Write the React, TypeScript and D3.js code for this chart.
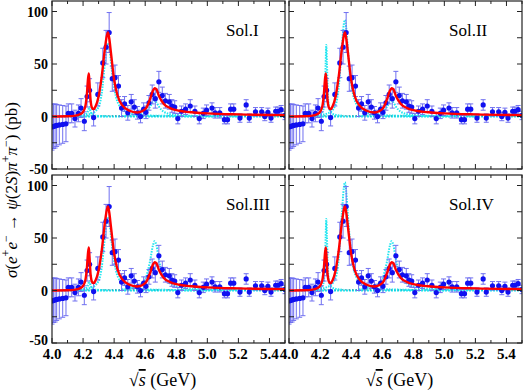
import React from 'react';
import * as d3 from 'd3';

// measured points: energy (GeV), cross section (pb), error (pb)
const energy = [4.0, 4.01, 4.02, 4.03, 4.047, 4.069, 4.09, 4.105, 4.127, 4.148, 4.17, 4.187, 4.208, 4.226, 4.242, 4.268, 4.295,
  4.327, 4.348, 4.368, 4.388, 4.406, 4.428, 4.448, 4.467, 4.488, 4.51, 4.53, 4.55, 4.57, 4.59, 4.605, 4.624, 4.645, 4.665,
  4.688, 4.71, 4.73, 4.755, 4.772, 4.79, 4.81, 4.834, 4.86, 4.89, 4.92, 4.948, 4.974, 4.995, 5.03, 5.05, 5.08, 5.11, 5.13,
  5.15, 5.17, 5.21, 5.25, 5.27, 5.31, 5.35, 5.37, 5.39, 5.41, 5.44, 5.455, 5.475, 5.5];
const xsec = [-10, -9.5, -9, -8.5, -8, -7.5, -7, 3, 3, -2, 3, 8, -4.5, 19, 25, -1, 21,
  51, 66, 80, 36, 37, 29, 8, 12, 3.5, 14, 9, 3.5, 0, 7, 4, 13, 21, 17,
  33, 20, 15, 14, 10, 9, -2, 5, 7, 10, 5, -2, 3, 6, 8, 3.5, 3.5, -3, -3,
  7, 7, -1.5, 11, -1.5, 4.5, 4.5, 0, 4, -1.5, 5, 5, 6.5, 1];
const xerr = [22, 21, 21, 20, 19, 18, 17, 9, 9, 8, 8, 9, 9, 10, 11, 8, 11,
  14, 16, 19, 12, 12, 10, 8, 7, 7, 7, 7, 6, 6, 6, 6, 7, 9, 9,
  10, 8, 7, 7, 6, 6, 5, 5, 5, 6, 5, 5, 5, 5, 5, 5, 5, 4, 4,
  5, 5, 4, 5, 4, 4, 4, 4, 4, 4, 4, 4, 4, 4];

// total fit (same in all solutions)
const fitTotal: [number, number][] = [[4.0, 0], [4.1, 0.2], [4.15, 0.8], [4.18, 2.2], [4.2, 4.5], [4.215, 10], [4.225, 22],
  [4.232, 36], [4.237, 41], [4.241, 33], [4.248, 16], [4.257, 8.5], [4.268, 7], [4.28, 9.5], [4.3, 19], [4.32, 38],
  [4.34, 64], [4.353, 77], [4.36, 80], [4.368, 75], [4.38, 60], [4.4, 35], [4.42, 21], [4.45, 11], [4.5, 5.5],
  [4.55, 3.8], [4.58, 5], [4.61, 9], [4.63, 16], [4.648, 24], [4.662, 27], [4.672, 26], [4.69, 19], [4.72, 12],
  [4.76, 8], [4.82, 5.5], [4.9, 4], [5.0, 3], [5.2, 2], [5.5, 1.3]];

// individual resonance components
const narrowLow: [number, number][] = [[4.15, 0.3], [4.2, 1], [4.22, 2.5], [4.23, 4.5], [4.236, 7.5], [4.24, 9],
  [4.244, 7], [4.25, 4], [4.26, 2], [4.28, 0.8], [4.35, 0.3]];
const narrowHigh: [number, number][] = [[4.15, 0.5], [4.2, 2], [4.22, 6], [4.23, 20], [4.236, 50], [4.24, 68],
  [4.244, 52], [4.25, 22], [4.26, 7], [4.28, 2.5], [4.35, 0.6]];
const mainLow: [number, number][] = [[4.15, 0.5], [4.25, 2.5], [4.3, 9], [4.32, 22], [4.34, 50], [4.355, 68],
  [4.362, 70], [4.372, 62], [4.39, 38], [4.41, 20], [4.44, 9], [4.5, 3], [4.6, 1], [5.0, 0.2]];
const mainMid: [number, number][] = [[4.15, 0.5], [4.25, 3], [4.3, 11], [4.32, 28], [4.34, 65], [4.353, 88],
  [4.36, 92], [4.368, 85], [4.38, 62], [4.4, 32], [4.43, 13], [4.48, 5], [4.6, 1.2], [5.0, 0.2]];
const mainHigh: [number, number][] = [[4.15, 0.6], [4.25, 3.5], [4.3, 12], [4.32, 30], [4.34, 72], [4.353, 98],
  [4.36, 103], [4.368, 95], [4.38, 70], [4.4, 36], [4.43, 14], [4.48, 5.5], [4.6, 1.3], [5.0, 0.2]];
const thirdLow: [number, number][] = [[4.45, 0.5], [4.55, 1.5], [4.6, 4], [4.63, 9], [4.65, 14], [4.66, 15],
  [4.672, 13.5], [4.69, 9], [4.72, 4.5], [4.78, 1.8], [4.9, 0.6], [5.2, 0.2]];
const thirdHigh: [number, number][] = [[4.45, 1], [4.55, 4], [4.6, 11], [4.63, 27], [4.65, 43], [4.66, 47],
  [4.672, 43], [4.69, 28], [4.72, 13], [4.78, 5], [4.9, 1.7], [5.2, 0.5]];
const flatZero: [number, number][] = [[4.0, 0], [5.5, 0]];

const solNames = ['Sol.I', 'Sol.II', 'Sol.III', 'Sol.IV'];
const solComps = [
  [narrowLow, mainLow, thirdLow],
  [narrowHigh, mainMid, thirdLow],
  [narrowLow, mainLow, thirdHigh],
  [narrowHigh, mainHigh, thirdHigh],
];

const xTicks = [4.0, 4.2, 4.4, 4.6, 4.8, 5.0, 5.2, 5.4];
const yTicks = [-50, 0, 50, 100];

const panels = [
  { x0: 52, x1: 285, y0: 1, y1: 169, lx: 226, left: true, bottom: false },
  { x0: 289, x1: 522, y0: 1, y1: 169, lx: 449, left: false, bottom: false },
  { x0: 52, x1: 285, y0: 175, y1: 343, lx: 226, left: true, bottom: true },
  { x0: 289, x1: 522, y0: 175, y1: 343, lx: 449, left: false, bottom: true },
];

const serif = 'Liberation Serif, DejaVu Serif, serif';

function Panel({ p, idx }: { p: typeof panels[0]; idx: number }) {
  const x = d3.scaleLinear().domain([4.0, 5.5]).range([p.x0, p.x1]);
  const y = d3.scaleLinear().domain([-50, 110]).range([p.y1, p.y0]);
  const line = d3.line<[number, number]>().x(d => x(d[0])).y(d => y(d[1])).curve(d3.curveMonotoneX);
  const clipId = 'clip' + idx;
  const minorX = d3.range(4.1, 5.5, 0.2);
  const minorY = [-25, 25, 75];
  return (
    <g>
      <defs>
        <clipPath id={clipId}>
          <rect x={p.x0} y={p.y0} width={p.x1 - p.x0} height={p.y1 - p.y0} />
        </clipPath>
      </defs>
      <g clipPath={`url(#${clipId})`}>
        <path d={line(flatZero) || ''} fill="none" stroke="#22e6f0" strokeWidth={2.2} strokeDasharray="2,1" />
        <path d={line(flatZero.map(d => [d[0], d[1] + 0.6] as [number, number])) || ''} fill="none" stroke="#118899" strokeWidth={1} strokeDasharray="1.5,2" />
        {solComps[idx].map((c, i) => (
          <path key={i} d={line(c) || ''} fill="none" stroke="#22e6f0" strokeWidth={2} strokeDasharray="1.5,1.2" />
        ))}
        {energy.map((e, i) => (
          <g key={i} stroke="#7070f0" strokeWidth={1}>
            <line x1={x(e)} x2={x(e)} y1={y(xsec[i] - xerr[i])} y2={y(xsec[i] + xerr[i])} />
            <line x1={x(e) - 2.5} x2={x(e) + 2.5} y1={y(xsec[i] - xerr[i])} y2={y(xsec[i] - xerr[i])} />
            <line x1={x(e) - 2.5} x2={x(e) + 2.5} y1={y(xsec[i] + xerr[i])} y2={y(xsec[i] + xerr[i])} />
          </g>
        ))}
        {energy.map((e, i) => (
          <circle key={i} cx={x(e)} cy={y(xsec[i])} r={2.6} fill="#1010f0" />
        ))}
        <path d={line(fitTotal) || ''} fill="none" stroke="#ff0000" strokeWidth={2.4} />
      </g>
      <rect x={p.x0} y={p.y0} width={p.x1 - p.x0} height={p.y1 - p.y0} fill="none" stroke="#222" strokeWidth={1.2} />
      {xTicks.map(t => (
        <g key={t} stroke="#222" strokeWidth={1}>
          <line x1={x(t)} x2={x(t)} y1={p.y1} y2={p.y1 - 5} />
          <line x1={x(t)} x2={x(t)} y1={p.y0} y2={p.y0 + 5} />
        </g>
      ))}
      {minorX.map(t => (
        <g key={t} stroke="#222" strokeWidth={1}>
          <line x1={x(t)} x2={x(t)} y1={p.y1} y2={p.y1 - 3} />
          <line x1={x(t)} x2={x(t)} y1={p.y0} y2={p.y0 + 3} />
        </g>
      ))}
      {yTicks.concat(minorY).map(t => (
        <g key={t} stroke="#222" strokeWidth={1}>
          <line x1={p.x0} x2={p.x0 + 5} y1={y(t)} y2={y(t)} />
          <line x1={p.x1} x2={p.x1 - 5} y1={y(t)} y2={y(t)} />
        </g>
      ))}
      {p.left && yTicks.map(t => (
        <text key={t} x={p.x0 - 4} y={y(t) + (t === -50 && p.bottom ? 2 : 5)} textAnchor="end"
          style={{ fontFamily: serif, fontWeight: 'bold', fontSize: 14 }}>{t}</text>
      ))}
      {p.bottom && xTicks.map(t => (
        <text key={t} x={x(t)} y={p.y1 + 16} textAnchor="middle"
          style={{ fontFamily: serif, fontWeight: 'bold', fontSize: 15 }}>{t.toFixed(1)}</text>
      ))}
      <text x={p.lx} y={p.y0 + 35} style={{ fontFamily: serif, fontSize: 17 }}>{solNames[idx]}</text>
      {p.bottom && (
        <text x={(p.x0 + p.x1) / 2 - 6} y={386} textAnchor="middle" style={{ fontFamily: serif, fontSize: 18 }}>
          √<tspan fontStyle="italic" textDecoration="overline">s</tspan> (GeV)
        </text>
      )}
    </g>
  );
}

export default function App() {
  return (
    <svg width={525} height={392} style={{ position: 'absolute', left: 0, top: 0, background: '#fff' }}>
      {panels.map((p, i) => <Panel key={i} p={p} idx={i} />)}
      <text transform="translate(17,190) rotate(-90)" textAnchor="middle" style={{ fontFamily: serif, fontSize: 17 }}>
        <tspan fontStyle="italic">σ</tspan>(<tspan fontStyle="italic">e</tspan>
        <tspan fontSize={12} dy={-7}>+</tspan>
        <tspan fontStyle="italic" dy={7}>e</tspan>
        <tspan fontSize={12} dy={-7}>−</tspan>
        <tspan dy={7}> → </tspan>
        <tspan fontStyle="italic">ψ</tspan>(2<tspan fontStyle="italic">S</tspan>)<tspan fontStyle="italic">π</tspan>
        <tspan fontSize={12} dy={-7}>+</tspan>
        <tspan fontStyle="italic" dy={7}>π</tspan>
        <tspan fontSize={12} dy={-7}>−</tspan>
        <tspan dy={7}>) (pb)</tspan>
      </text>
    </svg>
  );
}
